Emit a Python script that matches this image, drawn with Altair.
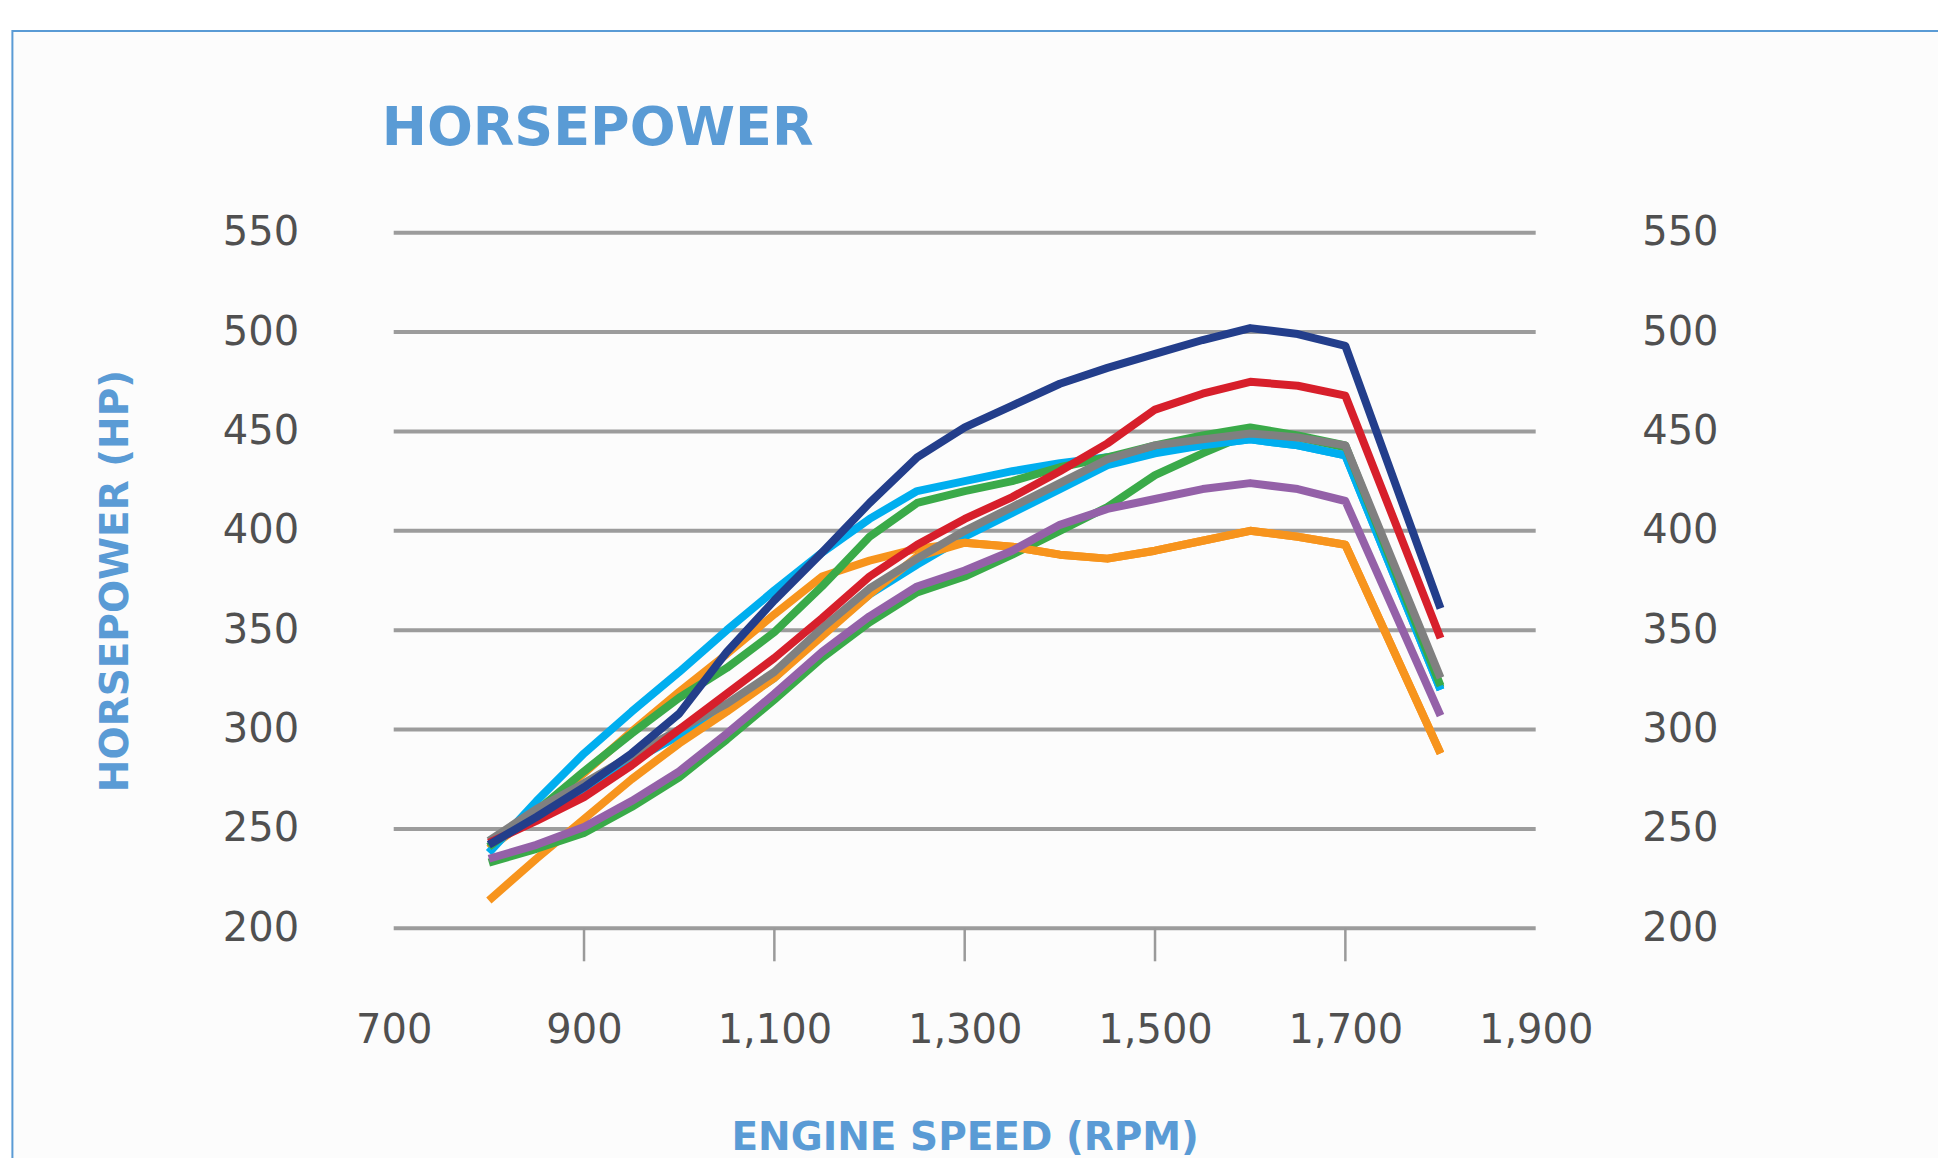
import altair as alt
import pandas as pd

# ---------------- data ----------------
RPM = [800, 850, 900, 950, 1000, 1050, 1100, 1150, 1200, 1250,
       1300, 1350, 1400, 1450, 1500, 1550, 1600, 1650, 1700, 1800]

CYAN_B   = [241, 257, 270, 284, 297, 310, 326, 348, 368, 383, 397, 409, 421, 433, 439, 443, 446, 443, 438, 320]
ORANGE_B = [214, 235, 255, 275, 293, 309, 326, 347, 368, 387, 394, 392, 388, 386, 390, 395, 400, 397, 393, 288]
GREEN_B  = [233, 240, 248, 261, 276, 295, 315, 336, 354, 369, 377, 388, 400, 412, 428, 439, 449, 447, 442, 321]
ORANGE_A = [240, 258, 278, 299, 319, 338, 358, 377, 385, 391, 394, 392, 388, 386, 390, 395, 400, 397, 393, 288]
CYAN_A   = [238, 264, 288, 309, 329, 350, 370, 389, 406, 420, 425, 430, 434, 437, 440, 443, 446, 443, 438, 320]
GREEN_A  = [241, 259, 279, 298, 316, 331, 349, 372, 397, 414, 420, 425, 432, 437, 443, 448, 452, 448, 443, 322]
GRAY     = [244, 260, 273, 287, 300, 313, 329, 351, 371, 386, 400, 412, 424, 436, 443, 446, 449, 447, 443, 326]
PURPLE   = [235, 242, 251, 264, 279, 298, 318, 339, 357, 372, 380, 390, 403, 411, 416, 421, 424, 421, 415, 307]
RED      = [243, 254, 266, 282, 300, 318, 336, 356, 377, 393, 406, 417, 430, 444, 461, 469, 475, 473, 468, 346]
NAVY     = [242, 256, 271, 288, 308, 339, 365, 389, 414, 437, 452, 463, 474, 482, 489, 496, 502, 499, 493, 361]

# drawing order: bottom -> top
SERIES = ["cyan_b", "orange_b", "green_b", "orange_a", "cyan_a",
          "green_a", "gray", "purple", "red", "navy"]
SERIES_HP = [CYAN_B, ORANGE_B, GREEN_B, ORANGE_A, CYAN_A,
             GREEN_A, GRAY, PURPLE, RED, NAVY]
COLORS = ["#00aeef", "#f7941d", "#3aaa49", "#f7941d", "#00aeef",
          "#3aaa49", "#808080", "#9461a8", "#d71f2b", "#233e8b"]

Y_TICKS = [200, 250, 300, 350, 400, 450, 500, 550]
X_LABELS = [700, 900, 1100, 1300, 1500, 1700, 1900]
X_TICKS = [900, 1100, 1300, 1500, 1700]

# ---------------- layout ----------------
W = 1142
H = 695.6
BLUE = "#5a9bd5"
LABEL_COLOR = "#505050"
FONT = "DejaVu Sans"

rows = []
for name, vals in zip(SERIES, SERIES_HP):
    for r, v in zip(RPM, vals):
        rows.append({"rpm": r, "hp": v, "series": name})
df = pd.DataFrame(rows)

x_scale = alt.Scale(domain=[700, 1900], nice=False, zero=False)
y_scale = alt.Scale(domain=[200, 550], nice=False, zero=False)
color_scale = alt.Scale(domain=SERIES, range=COLORS)

x_axis = alt.Axis(
    values=X_LABELS, format=",.0f", title="ENGINE SPEED (RPM)",
    grid=False, ticks=False, tickSize=0, domain=False, zindex=1,
    labelFlush=False, labelOverlap=False, labelBound=False,
    labelFont=FONT, labelFontSize=40, labelColor=LABEL_COLOR,
    labelPadding=102, labelBaseline="middle",
    titleFont=FONT, titleFontSize=39, titleFontWeight="bold", titleColor=BLUE,
    titleBaseline="alphabetic", titleY=221,
)
y_axis_left = alt.Axis(
    values=Y_TICKS, title="HORSEPOWER (HP)",
    grid=False, ticks=False, tickSize=0, domain=False, zindex=1,
    labelFont=FONT, labelFontSize=40, labelColor=LABEL_COLOR, labelPadding=95,
    titleFont=FONT, titleFontSize=39, titleFontWeight="bold", titleColor=BLUE,
    titleBaseline="alphabetic", titleX=-266,
)
y_axis_right = alt.Axis(
    orient="right", values=Y_TICKS, title=None,
    grid=False, ticks=False, tickSize=0, domain=False, zindex=1,
    labelFont=FONT, labelFontSize=40, labelColor=LABEL_COLOR, labelPadding=106,
)

frame = alt.Chart(alt.Data(values=[{}])).mark_rect(
    fill="#fcfcfc", stroke=BLUE, strokeWidth=2
).encode(
    x=alt.value(-381.3), x2=alt.value(W + 440),
    y=alt.value(-201.7), y2=alt.value(H + 280),
)

grid = alt.Chart(pd.DataFrame({"hp": Y_TICKS})).mark_rule(
    color="#9c9c9c", strokeWidth=4
).encode(
    y=alt.Y("hp:Q", scale=y_scale, axis=y_axis_right),
    x=alt.value(0), x2=alt.value(W),
)

ticks = alt.Chart(pd.DataFrame({"rpm": X_TICKS})).mark_rule(
    color="#9a9a9a", strokeWidth=2.5
).encode(
    x=alt.X("rpm:Q", scale=x_scale, axis=x_axis),
    y=alt.value(H), y2=alt.value(H + 33),
)

line_layers = []
for name in SERIES:
    line_layers.append(
        alt.Chart(df).transform_filter(alt.datum.series == name).mark_line(
            strokeWidth=8, interpolate="linear", strokeJoin="round"
        ).encode(
            x=alt.X("rpm:Q", scale=x_scale, axis=x_axis),
            y=alt.Y("hp:Q", scale=y_scale, axis=y_axis_left),
            color=alt.Color("series:N", scale=color_scale, legend=None),
        )
    )
lines = alt.layer(*line_layers)

chart = alt.layer(frame, grid, ticks, lines).resolve_axis(
    y="independent"
).properties(
    width=W, height=H,
    title=alt.TitleParams(
        text="HORSEPOWER", anchor="start", frame="group",
        font=FONT, fontSize=54, fontWeight="bold", color=BLUE,
        baseline="alphabetic", offset=0, dx=-12, dy=169,
    ),
    padding={"left": 385.7, "top": 224.7, "right": 402, "bottom": 229.7},
    autosize=alt.AutoSizeParams(type="none"),
    background="white",
).configure_view(stroke=None)

chart.save("out.html", embed_options={"renderer": "svg", "actions": False})
